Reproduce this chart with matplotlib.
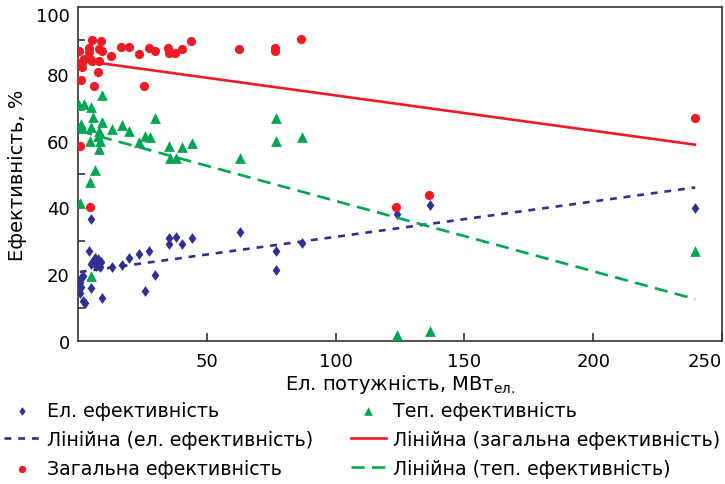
import numpy as np
import matplotlib
matplotlib.use("Agg")
import matplotlib.pyplot as plt
from matplotlib.ticker import FixedLocator

plt.rcParams['font.family'] = ['DejaVu Sans']

# Електрична ефективність (x — МВт, y — %)
el_x = [4.9, 4.4, 5.8, 7.8, 9.0, 7.1, 5.2, 8.4, 6.5, 13.1, 17.0, 19.8, 23.7, 27.7,
        35.3, 35.3, 37.9, 40.5, 44.1, 62.9, 26.0, 29.9, 9.4, 4.9, 1.0, 0.8, 1.3,
        1.9, 1.8, 2.7, 0.7, 76.9, 76.9, 86.8, 123.7, 136.8, 239.6]
el_y = [36.6, 27.0, 24.0, 24.6, 23.6, 22.4, 23.1, 22.1, 25.0, 22.3, 22.9, 24.9, 26.0, 26.8,
        30.8, 29.0, 31.2, 29.0, 30.7, 32.7, 14.9, 19.8, 12.8, 15.9, 16.1, 17.6, 19.0,
        19.6, 12.1, 11.4, 14.5, 26.9, 21.3, 29.3, 38.0, 40.7, 39.7]

# Загальна ефективність
tot_x = [0.4, 1.0, 0.8, 5.6, 9.0, 4.4, 4.4, 8.3, 9.2, 12.8, 16.7, 19.7, 23.7, 27.7,
         29.9, 35.1, 35.3, 37.7, 40.2, 43.7, 62.6, 25.7, 6.3, 7.9, 1.7, 1.7, 4.7,
         5.3, 8.3, 2.2, 76.5, 76.5, 86.4, 239.5, 123.4, 136.4, 4.5]
tot_y = [86.7, 78.1, 58.3, 90.1, 89.7, 87.7, 86.4, 87.4, 86.7, 85.4, 88.1, 87.9, 85.9, 87.8,
         86.7, 87.7, 86.1, 86.1, 87.4, 89.9, 87.4, 76.4, 76.2, 80.6, 83.4, 81.9, 84.4,
         83.9, 83.9, 84.4, 87.6, 86.9, 90.5, 66.8, 40.2, 43.8, 40.0]

# Теплова ефективність
th_x = [0.4, 2.4, 4.9, 9.4, 5.9, 1.0, 1.7, 5.0, 9.2, 13.1, 17.1, 19.9, 29.9, 8.3,
        7.9, 4.7, 8.5, 8.2, 23.8, 26.0, 27.9, 35.4, 35.7, 37.9, 40.5, 44.1, 62.9,
        6.6, 4.8, 0.9, 4.9, 76.9, 76.7, 86.8, 123.7, 136.8, 239.6]
th_y = [70.7, 71.0, 70.0, 73.7, 67.0, 65.0, 63.7, 64.0, 65.7, 63.5, 64.8, 62.9, 66.8, 62.8,
        61.5, 60.0, 60.0, 57.5, 59.5, 61.3, 61.2, 58.3, 54.7, 54.7, 58.2, 59.2, 54.7,
        51.2, 47.5, 41.3, 19.6, 66.8, 60.0, 61.0, 1.9, 2.9, 26.9]

# Лінійні тренди: (перетин, нахил)
el_trend = (20.6, 0.1059)
tot_trend = (84.1, -0.1057)
th_trend = (63.0, -0.2106)

x_ticks = [50, 100, 150, 200, 250]
y_ticks = [0, 20, 40, 60, 80, 100]

BLUE = '#2E3192'
RED = '#ED1C24'
GREEN = '#00A651'
FS_TICK = 13
FS = 14
FS_LEG = 13.7

fig = plt.figure(figsize=(7.25, 4.85), dpi=100)
ax = fig.add_axes([78 / 725, 1 - 342 / 485, 644 / 725, 334 / 485])

diamond = [(0, 1), (0.72, 0), (0, -1), (-0.72, 0), (0, 1)]

sc_el = ax.scatter(el_x, el_y, marker=diamond, s=60, color=BLUE, linewidths=0,
                   zorder=3, label='Ел. ефективність')
sc_tot = ax.scatter(tot_x, tot_y, marker='o', s=44, color=RED, linewidths=0,
                    zorder=3, label='Загальна ефективність')
sc_th = ax.scatter(th_x, th_y, marker='^', s=60, color=GREEN, linewidths=0,
                   zorder=3, label='Теп. ефективність')


def trend(xs, coef):
    xx = np.array([min(xs), max(xs)])
    return xx, coef[0] + coef[1] * xx


lx, ly = trend(el_x, el_trend)
ln_el, = ax.plot(lx, ly, color=BLUE, lw=1.9, dashes=(2.6, 2.6), zorder=4,
                 label='Лінійна (ел. ефективність)')
lx, ly = trend(tot_x, tot_trend)
ln_tot, = ax.plot(lx, ly, color=RED, lw=1.9, zorder=4,
                  label='Лінійна (загальна ефективність)')
lx, ly = trend(th_x, th_trend)
ln_th, = ax.plot(lx, ly, color=GREEN, lw=1.9, dashes=(5, 2.8), zorder=4,
                 label='Лінійна (теп. ефективність)')

ax.set_xlim(0, 250)
ax.set_ylim(0, 100)

ax.xaxis.set_major_locator(FixedLocator(x_ticks))
ax.yaxis.set_major_locator(FixedLocator(y_ticks))
ax.yaxis.set_minor_locator(FixedLocator([10, 30, 50, 70, 90]))
ax.tick_params(axis='x', which='major', direction='in', length=6, width=1.2,
               color='#333333', labelsize=FS_TICK, pad=8)
ax.tick_params(axis='y', which='major', length=0, labelsize=FS_TICK, pad=6)
ax.tick_params(axis='y', which='minor', direction='in', length=5, width=1.2,
               color='#333333')
for sp in ax.spines.values():
    sp.set_color('#333333')
    sp.set_linewidth(1.2)

# keep the end labels inside the frame
ax.get_xticklabels()[-1].set_horizontalalignment('right')
ax.get_yticklabels()[-1].set_verticalalignment('top')

ax.set_xlabel(r'Ел. потужність, МВт$_{\mathregular{ел.}}$', fontsize=FS, labelpad=1)
ax.set_ylabel('Ефективність, %', fontsize=FS, labelpad=6)

handles = [sc_el, ln_el, sc_tot, sc_th, ln_tot, ln_th]
fig.legend(handles=handles, labels=[h.get_label() for h in handles],
           loc='upper left', bbox_to_anchor=(0.006, 0.171), ncol=2,
           frameon=False, fontsize=FS_LEG, handlelength=1.85, handletextpad=0.37,
           columnspacing=2.0, labelspacing=0.52, borderpad=0, borderaxespad=0,
           markerscale=0.8)

fig.savefig('out.png', dpi=100)
